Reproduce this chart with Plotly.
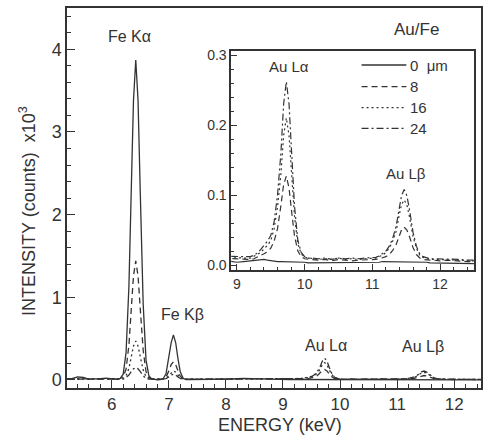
import plotly.graph_objects as go

# ---------------- data (intensity in counts x10^3) ----------------
energy = [5.22, 5.30, 5.40, 5.50, 5.60, 5.70, 5.80, 5.90, 6.00,
          6.10, 6.15, 6.20, 6.25, 6.30, 6.35, 6.38, 6.42, 6.46, 6.50, 6.55, 6.60, 6.65, 6.70, 6.75,
          6.80, 6.85, 6.90, 6.95, 7.00, 7.04, 7.08, 7.12, 7.16, 7.20, 7.25, 7.30, 7.35,
          7.50, 7.70, 7.90, 8.10, 8.30, 8.50, 8.70, 8.90, 9.00, 9.10,
          9.20, 9.25, 9.30, 9.35, 9.40, 9.45, 9.50, 9.55, 9.60, 9.65, 9.69, 9.73, 9.77, 9.81, 9.85, 9.90, 9.95, 10.00, 10.05, 10.10,
          10.20, 10.30, 10.40, 10.50, 10.60, 10.70, 10.80, 10.90,
          11.00, 11.05, 11.10, 11.15, 11.20, 11.25, 11.30, 11.35, 11.40, 11.43, 11.47, 11.51, 11.55, 11.60, 11.65, 11.70, 11.75, 11.80, 11.85, 11.90,
          12.00, 12.10, 12.20, 12.30, 12.40, 12.50]

i_0um = [0.010, 0.015, 0.038, 0.030, 0.010, 0.008, 0.015, 0.022, 0.012,
         0.008, 0.020, 0.070, 0.330, 1.130, 2.550, 3.380, 3.870, 3.380, 2.240, 0.920, 0.240, 0.050, 0.012, 0.005,
         0.003, 0.005, 0.015, 0.074, 0.256, 0.450, 0.545, 0.450, 0.256, 0.098, 0.020, 0.006, 0.004,
         0.004, 0.006, 0.008, 0.012, 0.020, 0.015, 0.008, 0.005, 0.004, 0.005,
         0.006, 0.006, 0.007, 0.007, 0.008, 0.007, 0.006, 0.005, 0.005, 0.005, 0.005, 0.005, 0.005, 0.005, 0.004, 0.004, 0.004, 0.004, 0.003, 0.003,
         0.003, 0.003, 0.003, 0.004, 0.003, 0.003, 0.003, 0.004,
         0.004, 0.004, 0.004, 0.005, 0.005, 0.005, 0.005, 0.005, 0.005, 0.005, 0.005, 0.005, 0.005, 0.005, 0.004, 0.004, 0.004, 0.004, 0.003, 0.003,
         0.003, 0.002, 0.002, 0.002, 0.002, 0.002]

i_8um = [0.012, 0.012, 0.015, 0.015, 0.012, 0.010, 0.012, 0.014, 0.012,
         0.010, 0.020, 0.040, 0.130, 0.420, 0.950, 1.260, 1.440, 1.260, 0.850, 0.360, 0.100, 0.030, 0.012, 0.010,
         0.010, 0.010, 0.015, 0.035, 0.110, 0.185, 0.220, 0.185, 0.110, 0.045, 0.018, 0.010, 0.010,
         0.010, 0.010, 0.010, 0.010, 0.012, 0.012, 0.010, 0.009, 0.008, 0.008,
         0.008, 0.009, 0.011, 0.013, 0.016, 0.019, 0.024, 0.034, 0.052, 0.085, 0.115, 0.127, 0.110, 0.075, 0.042, 0.020, 0.012, 0.009, 0.008, 0.008,
         0.007, 0.008, 0.006, 0.008, 0.007, 0.006, 0.007, 0.007,
         0.007, 0.008, 0.009, 0.010, 0.012, 0.015, 0.021, 0.029, 0.042, 0.050, 0.054, 0.050, 0.040, 0.025, 0.015, 0.010, 0.008, 0.007, 0.007, 0.007,
         0.006, 0.007, 0.006, 0.006, 0.005, 0.005]

i_16um = [0.012, 0.013, 0.015, 0.014, 0.012, 0.011, 0.012, 0.013, 0.012,
          0.010, 0.015, 0.020, 0.050, 0.140, 0.310, 0.410, 0.470, 0.410, 0.280, 0.120, 0.040, 0.020, 0.012, 0.010,
          0.010, 0.010, 0.012, 0.020, 0.055, 0.093, 0.110, 0.093, 0.055, 0.025, 0.013, 0.010, 0.010,
          0.010, 0.010, 0.011, 0.011, 0.012, 0.012, 0.011, 0.010, 0.010, 0.010,
          0.010, 0.012, 0.015, 0.018, 0.023, 0.028, 0.035, 0.052, 0.083, 0.130, 0.185, 0.210, 0.185, 0.125, 0.070, 0.030, 0.016, 0.011, 0.010, 0.010,
          0.008, 0.009, 0.008, 0.010, 0.008, 0.009, 0.008, 0.009,
          0.009, 0.010, 0.012, 0.014, 0.018, 0.024, 0.034, 0.048, 0.073, 0.086, 0.093, 0.086, 0.068, 0.041, 0.024, 0.014, 0.011, 0.009, 0.008, 0.008,
          0.008, 0.007, 0.008, 0.007, 0.006, 0.006]

i_24um = [0.012, 0.013, 0.014, 0.014, 0.013, 0.012, 0.013, 0.013, 0.012,
          0.010, 0.010, 0.010, 0.030, 0.060, 0.110, 0.135, 0.150, 0.135, 0.100, 0.050, 0.020, 0.010, 0.010, 0.010,
          0.010, 0.010, 0.011, 0.016, 0.036, 0.060, 0.070, 0.060, 0.036, 0.018, 0.012, 0.010, 0.010,
          0.010, 0.010, 0.011, 0.012, 0.013, 0.013, 0.012, 0.012, 0.012, 0.012,
          0.012, 0.014, 0.017, 0.022, 0.028, 0.034, 0.042, 0.062, 0.100, 0.160, 0.230, 0.262, 0.230, 0.155, 0.085, 0.035, 0.018, 0.012, 0.010, 0.010,
          0.009, 0.010, 0.008, 0.010, 0.009, 0.010, 0.009, 0.010,
          0.010, 0.011, 0.013, 0.016, 0.020, 0.027, 0.038, 0.055, 0.084, 0.099, 0.108, 0.099, 0.078, 0.047, 0.027, 0.016, 0.012, 0.010, 0.009, 0.009,
          0.009, 0.008, 0.008, 0.008, 0.007, 0.007]

series_names = ["0  \u03bcm", "8", "16", "24"]
series_values = [i_0um, i_8um, i_16um, i_24um]
series_dash = ["solid", "6px,4px", "2px,3px", "7px,3px,2px,3px"]

main_x_ticks = [6, 7, 8, 9, 10, 11, 12]
main_y_ticks = [0, 1, 2, 3, 4]
inset_x_ticks = [9, 10, 11, 12]
inset_y_ticks = [0.0, 0.1, 0.2, 0.3]

# ---------------- figure ----------------
INK = "#333333"
FONT = "Liberation Sans, Arial, sans-serif"

fig = go.Figure()
for name, vals, dash in zip(series_names, series_values, series_dash):
    fig.add_trace(go.Scatter(x=energy, y=vals, mode="lines", name=name,
                             line=dict(color=INK, width=1.3, dash=dash),
                             xaxis="x", yaxis="y", showlegend=False))
for name, vals, dash in zip(series_names, series_values, series_dash):
    fig.add_trace(go.Scatter(x=energy, y=vals, mode="lines", name=name,
                             line=dict(color=INK, width=1.2, dash=dash),
                             xaxis="x2", yaxis="y2", showlegend=False))

axis_common = dict(showline=True, mirror=True, linecolor=INK, linewidth=1.5,
                   ticks="inside", tickcolor=INK, tickwidth=1.2,
                   showgrid=False, zeroline=False)

fig.update_layout(
    width=487, height=436,
    margin=dict(l=67, r=4, t=8, b=48),
    paper_bgcolor="white", plot_bgcolor="white",
    font=dict(family=FONT, color=INK),
    showlegend=False,
    xaxis=dict(**axis_common, range=[5.215, 12.47], domain=[0, 1],
               tickvals=main_x_ticks, ticklen=8,
               minor=dict(ticks="inside", ticklen=4, dtick=0.2, tickcolor=INK, tickwidth=1),
               tickfont=dict(size=17, color=INK)),
    yaxis=dict(**axis_common, range=[-0.097, 4.5], domain=[0, 1],
               tickvals=main_y_ticks, ticklen=8,
               minor=dict(ticks="inside", ticklen=4, dtick=0.2, tickcolor=INK, tickwidth=1),
               tickfont=dict(size=18, color=INK)),
    xaxis2=dict(**axis_common, range=[8.916, 12.5], domain=[0.3966, 0.983], anchor="y2",
                tickvals=inset_x_ticks, ticklen=6,
                minor=dict(ticks="inside", ticklen=3, dtick=0.2, tickcolor=INK, tickwidth=1),
                tickfont=dict(size=14, color=INK)),
    yaxis2=dict(**axis_common, range=[-0.0071, 0.3057], domain=[0.3105, 0.8868], anchor="x2",
                tickvals=inset_y_ticks, tickformat=".1f", ticklen=6,
                minor=dict(ticks="inside", ticklen=3, dtick=0.02, tickcolor=INK, tickwidth=1),
                tickfont=dict(size=14, color=INK)),
)

ann = [
    dict(text="Fe K\u03b1", x=6.31, y=4.16, xref="x", yref="y", size=16),
    dict(text="Fe K\u03b2", x=7.24, y=0.79, xref="x", yref="y", size=16),
    dict(text="Au L\u03b1", x=9.75, y=0.42, xref="x", yref="y", size=16),
    dict(text="Au L\u03b2", x=11.445, y=0.40, xref="x", yref="y", size=16),
    dict(text="Au/Fe", x=11.34, y=4.24, xref="x", yref="y", size=17),
    dict(text="Au L\u03b1", x=9.77, y=0.284, xref="x2", yref="y2", size=15),
    dict(text="Au L\u03b2", x=11.49, y=0.131, xref="x2", yref="y2", size=15),
]
for a in ann:
    fig.add_annotation(text=a["text"], x=a["x"], y=a["y"], xref=a["xref"], yref=a["yref"],
                       showarrow=False, font=dict(size=a["size"], color=INK, family=FONT))

# hand-drawn legend inside the inset (line samples + labels)
leg_x0, leg_x1, leg_tx = 0.7115, 0.8197, 0.8245
leg_rows = [0.850, 0.793, 0.738, 0.683]
for name, dash, yy in zip(series_names, series_dash, leg_rows):
    fig.add_shape(type="line", xref="paper", yref="paper", x0=leg_x0, x1=leg_x1, y0=yy, y1=yy,
                  line=dict(color=INK, width=1.3, dash=dash))
    fig.add_annotation(text=name, x=leg_tx, y=yy, xref="paper", yref="paper",
                       xanchor="left", yanchor="middle", showarrow=False,
                       font=dict(size=15, color=INK, family=FONT))

# axis titles
fig.add_annotation(text="ENERGY (keV)", x=0.5, y=0.0, xref="paper", yref="paper",
                   xshift=6, yshift=-37, yanchor="middle", showarrow=False,
                   font=dict(size=18, color=INK, family=FONT))
fig.add_annotation(text="INTENSITY (counts)  x10<sup>3</sup>", x=0, y=0.466, xref="paper", yref="paper",
                   xshift=-39, textangle=-90, xanchor="center", yanchor="middle", showarrow=False,
                   font=dict(size=18, color=INK, family=FONT))

fig.write_html("out.html")
